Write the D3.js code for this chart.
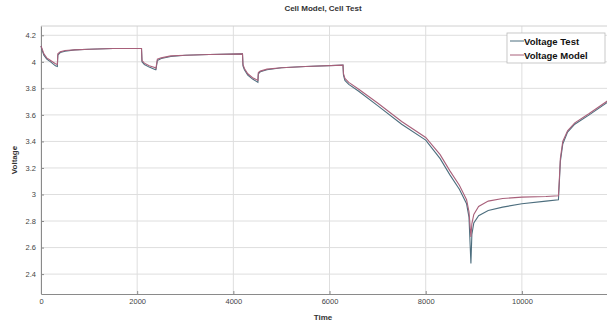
<!DOCTYPE html>
<html><head><meta charset="utf-8">
<script src="https://cdn.jsdelivr.net/npm/d3@7"></script>
<style>body{margin:0;background:#fff;}svg{display:block;font-family:"Liberation Sans",Arial,sans-serif;}</style>
</head><body><svg id="c" width="607" height="325"></svg>
<script>
const times = [0,20,60,120,200,300,340,350,400,500,700,1000,1500,2090,2100,2150,2250,2380,2390,2420,2500,2700,3000,3500,4190,4200,4230,4300,4400,4510,4520,4560,4700,5000,5500,6280,6290,6320,6400,6600,7000,7500,8000,8300,8500,8700,8850,8900,8940,8960,9000,9100,9300,9600,10000,10500,10760,10780,10800,10850,10950,11100,11400,11800];
const voltageTest = [4.12,4.09,4.05,4.02,4.0,3.97,3.965,4.05,4.07,4.08,
4.09,4.095,4.1,4.1,4.0,3.98,3.96,3.94,3.94,4.01,
4.025,4.04,4.05,4.055,4.06,3.97,3.94,3.9,3.87,3.845,
3.91,3.925,3.94,3.955,3.965,3.975,3.9,3.86,3.83,3.78,
3.67,3.53,3.41,3.27,3.15,3.04,2.93,2.83,2.48,2.7,
2.785,2.84,2.88,2.905,2.93,2.95,2.96,3.1,3.25,3.38,
3.47,3.53,3.6,3.7];
const voltageModel = [4.12,4.1,4.06,4.03,4.01,3.985,3.98,4.06,4.075,4.085,
4.09,4.095,4.1,4.1,4.01,3.99,3.97,3.955,3.95,4.02,
4.03,4.045,4.05,4.055,4.06,3.98,3.95,3.91,3.88,3.86,
3.92,3.93,3.945,3.955,3.965,3.975,3.91,3.875,3.845,3.795,
3.69,3.55,3.43,3.3,3.18,3.07,2.96,2.87,2.68,2.78,
2.85,2.91,2.95,2.97,2.98,2.985,2.99,3.12,3.27,3.4,
3.48,3.54,3.61,3.71];
const xTicks = [0,2000,4000,6000,8000,10000];
const yTicks = [2.4,2.6,2.8,3,3.2,3.4,3.6,3.8,4,4.2];
const seriesNames = ["Voltage Test","Voltage Model"];
const seriesColors = ["#4d6e7e","#a8607a"];

const svg = d3.select("#c");
const L=41,R=607,T=26,B=294;
const x = d3.scaleLinear().domain([0,11770]).range([L,R]);
const y = d3.scaleLinear().domain([2.25,4.27]).range([B,T]);

// grid
svg.append("g").selectAll("line").data(xTicks).join("line")
  .attr("x1",d=>x(d)).attr("x2",d=>x(d)).attr("y1",T).attr("y2",B)
  .attr("stroke","#dedede").attr("stroke-width",1);
svg.append("g").selectAll("line").data(yTicks).join("line")
  .attr("x1",L).attr("x2",R).attr("y1",d=>y(d)).attr("y2",d=>y(d))
  .attr("stroke","#dedede").attr("stroke-width",1);
svg.append("line").attr("x1",L).attr("x2",R).attr("y1",T).attr("y2",T).attr("stroke","#d0d0d0");

// axes
const xa = svg.append("g").attr("transform",`translate(0,${B})`)
  .call(d3.axisBottom(x).tickValues(xTicks).tickFormat(d3.format("d")).tickSizeInner(-3).tickSizeOuter(0).tickPadding(5));
const ya = svg.append("g").attr("transform",`translate(${L},0)`)
  .call(d3.axisLeft(y).tickValues(yTicks).tickFormat(d=>String(+d.toFixed(1))).tickSizeInner(-3).tickSizeOuter(0).tickPadding(5));
[xa,ya].forEach(a=>{
  a.select(".domain").attr("stroke","#8a8a8a");
  a.selectAll(".tick line").attr("stroke","#8a8a8a");
  a.selectAll("text").attr("fill","#444").attr("font-size","7.5px").attr("font-family","Liberation Sans, Arial, sans-serif");
});

// lines
const line = d3.line().x((d,i)=>x(times[i])).y(d=>y(d));
[voltageTest,voltageModel].forEach((s,k)=>{
  svg.append("path").datum(s).attr("d",line).attr("fill","none")
    .attr("stroke",seriesColors[k]).attr("stroke-width",1.1);
});

// labels
svg.append("text").attr("x",323).attr("y",11).attr("text-anchor","middle")
  .attr("font-size","8px").attr("font-weight","bold").attr("fill","#333").text("Cell Model, Cell Test");
svg.append("text").attr("x",323).attr("y",320).attr("text-anchor","middle")
  .attr("font-size","8px").attr("font-weight","bold").attr("fill","#333").text("Time");
svg.append("text").attr("transform","translate(17,160) rotate(-90)").attr("text-anchor","middle")
  .attr("font-size","8px").attr("font-weight","bold").attr("fill","#333").text("Voltage");

// legend
const lg = svg.append("g");
lg.append("rect").attr("x",507).attr("y",33).attr("width",98).attr("height",30)
  .attr("fill","#fff").attr("stroke","#bbb").attr("stroke-width",0.8);
seriesNames.forEach((n,i)=>{
  const yy = 41 + i*14;
  lg.append("line").attr("x1",510).attr("x2",524).attr("y1",yy).attr("y2",yy)
    .attr("stroke",seriesColors[i]).attr("stroke-width",1);
  lg.append("text").attr("x",524).attr("y",yy+3.5).attr("font-size","9.5px")
    .attr("font-weight","bold").attr("fill","#111").text(n);
});
</script></body></html>
